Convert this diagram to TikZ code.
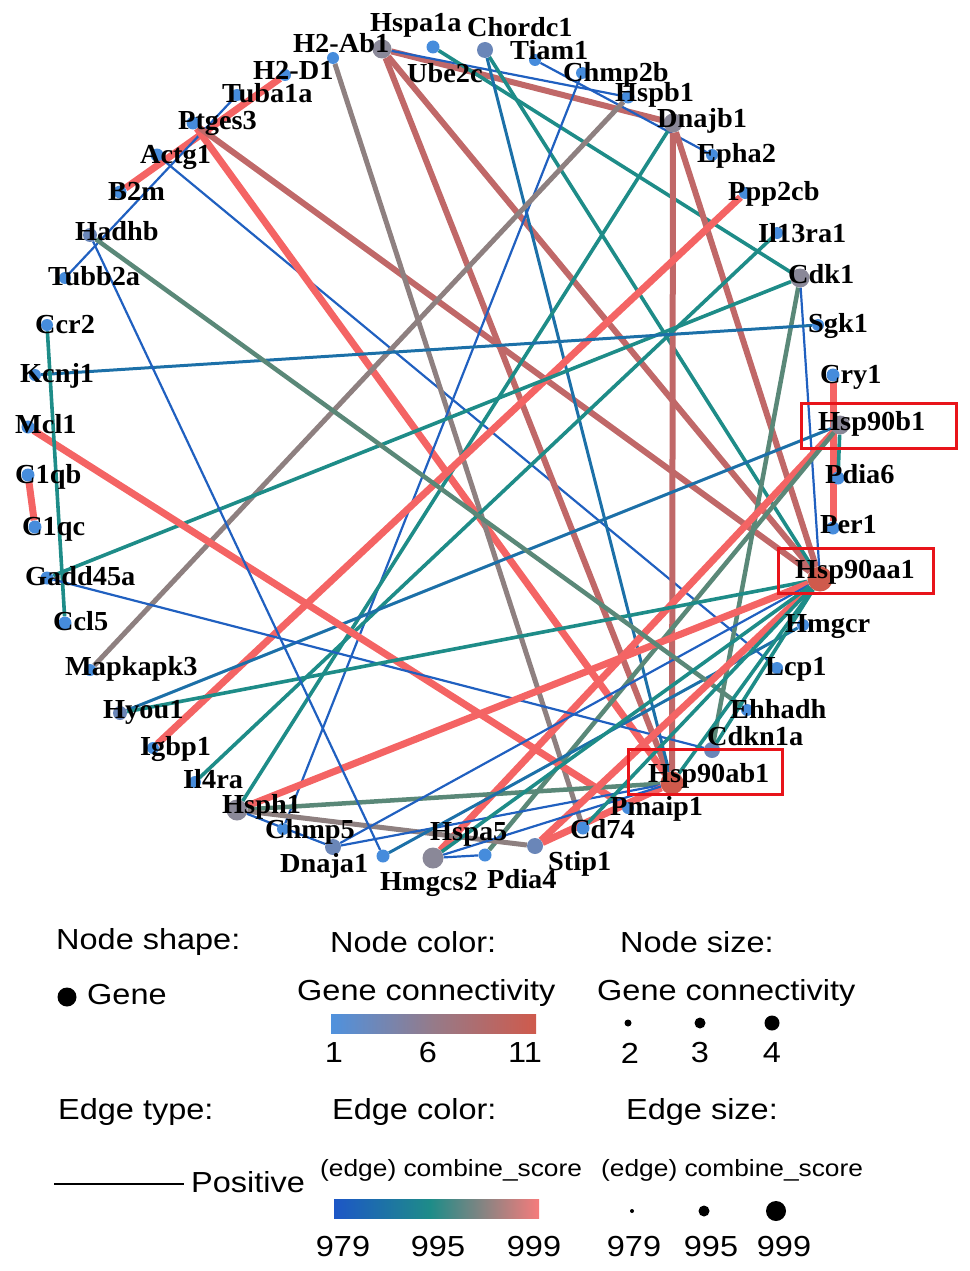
\documentclass[tikz,border=0pt]{standalone}
\usepackage{fontspec}
\setmainfont{Liberation Serif}
\newfontfamily\labfont[FakeStretch=1.03]{Liberation Serif}
\newfontfamily\legfont[FakeStretch=1.12]{Liberation Sans}
\pgfdeclarelayer{edgelayer}
\pgfsetlayers{edgelayer,main}
\definecolor{nBlue}{HTML}{468CDC}
\definecolor{nBG}{HTML}{6A86B8}
\definecolor{nGray}{HTML}{8A8898}
\definecolor{nRed}{HTML}{CF5A4C}
\definecolor{cBlue}{HTML}{2060C0}
\definecolor{cBT}{HTML}{1C70A8}
\definecolor{cTeal}{HTML}{1E8C88}
\definecolor{cGG}{HTML}{5A8878}
\definecolor{cGray}{HTML}{8E8080}
\definecolor{cBrown}{HTML}{C06868}
\definecolor{cRed}{HTML}{F46464}
\definecolor{boxRed}{HTML}{E8141A}
\tikzset{
  dot/.style={circle,inner sep=0pt,minimum size=13pt,fill=nBlue},
  dotS/.style={dot,minimum size=12pt},
  dotBG/.style={dot,fill=nBG,minimum size=16pt},
  dotGray/.style={dot,fill=nGray,minimum size=19pt},
  dotRed/.style={dot,fill=nRed,minimum size=25pt},
  lab/.style={anchor=base west,inner sep=0pt,font=\labfont\bfseries\fontsize{27.5}{30}\selectfont,text=black},
  leg/.style={inner sep=0pt,font=\legfont\fontsize{29}{32}\selectfont,text=black},
  legS/.style={inner sep=0pt,font=\legfont\fontsize{23.5}{26}\selectfont,text=black},
  eBlue/.style={draw=cBlue,line width=2.2pt},
  eBT/.style={draw=cBT,line width=3pt},
  eTeal/.style={draw=cTeal,line width=3.6pt},
  eGG/.style={draw=cGG,line width=4.5pt},
  eGray/.style={draw=cGray,line width=5pt},
  eBrown/.style={draw=cBrown,line width=6pt},
  eRed/.style={draw=cRed,line width=7pt},
  hibox/.style={draw=boxRed,line width=3pt}
}
\begin{document}
\begin{tikzpicture}[x=1pt,y=-1pt]
\useasboundingbox (0,0) rectangle (969,1271);
% ---------- gene nodes ----------
\node[dotS]    (H2Ab1)   at (333,58) {};
\node[dotGray] (Hspa1a)  at (382,49) {};
\node[dot]     (Ube2c)   at (433,47) {};
\node[dotBG]   (Chordc1) at (485,50) {};
\node[dotS]    (Tiam1)   at (535,60) {};
\node[dotS]    (Chmp2b)  at (582,73) {};
\node[dot]     (Hspb1)   at (628,97) {};
\node[dotGray] (Dnajb1)  at (673,123) {};
\node[dotS]    (Epha2)   at (712,155) {};
\node[dotS]    (Ppp2cb)  at (745,193) {};
\node[dotS]    (Il13ra1) at (777,233) {};
\node[dotGray] (Cdk1)    at (800,278) {};
\node[dotS]    (Sgk1)    at (818,325) {};
\node[dot]     (Cry1)    at (833,375) {};
\node[dotGray] (Hsp90b1) at (840,425) {};
\node[dot]     (Pdia6)   at (838,478) {};
\node[dot]     (Per1)    at (833,528) {};
\node[dotRed]  (Hsp90aa1) at (820,579) {};
\node[dotS]    (Hmgcr)   at (803,625) {};
\node[dotS]    (Lcp1)    at (777,668) {};
\node[dotS]    (Ehhadh)  at (747,710) {};
\node[dotBG]   (Cdkn1a)  at (712,750) {};
\node[dotRed,minimum size=23pt] (Hsp90ab1) at (672,783) {};
\node[dotS]    (Pmaip1)  at (628,808) {};
\node[dot]     (Cd74)    at (583,828) {};
\node[dotBG]   (Stip1)   at (535,846) {};
\node[dot]     (Pdia4)   at (485,855) {};
\node[dotGray,minimum size=21pt] (Hspa5) at (433,858) {};
\node[dot]     (Hmgcs2)  at (383,856) {};
\node[dotBG]   (Dnaja1)  at (333,847) {};
\node[dotS]    (Chmp5)   at (283,829) {};
\node[dotGray,minimum size=21pt] (Hsph1) at (237,810) {};
\node[dotS]    (Il4ra)   at (195,782) {};
\node[dotS]    (Igbp1)   at (153,748) {};
\node[dotBG,minimum size=14pt] (Hyou1) at (120,713) {};
\node[dotS]    (Mapkapk3) at (90,670) {};
\node[dot]     (Ccl5)    at (65,623) {};
\node[dot]     (Gadd45a) at (47,578) {};
\node[dot]     (C1qc)    at (35,527) {};
\node[dot]     (C1qb)    at (28,475) {};
\node[dot]     (Mcl1)    at (28,427) {};
\node[dotS]    (Kcnj1)   at (35,375) {};
\node[dotS]    (Ccr2)    at (47,325) {};
\node[dotS]    (Tubb2a)  at (65,278) {};
\node[dotBG,minimum size=14pt] (Hadhb) at (90,235) {};
\node[dot]     (B2m)     at (120,192) {};
\node[dot]     (Actg1)   at (157,155) {};
\node[dot]     (Ptges3)  at (193,123) {};
\node[dotS]    (Tuba1a)  at (237,95) {};
\node[dotS]    (H2D1)    at (285,75) {};
% ---------- interactions ----------
\begin{pgfonlayer}{edgelayer}
\draw[eRed]   (B2m) -- (H2D1);
\draw[eBlue]  (Tuba1a) -- (Tubb2a);
\draw[eBlue]  (Actg1) -- (Lcp1);
\draw[eRed]   (Ptges3) -- (Hsp90ab1);
\draw[eBrown] (Ptges3) -- (Hsp90aa1);
\draw[eBrown] (Hspa1a) -- (Hsp90ab1);
\draw[eBrown] (Hspa1a) -- (Hsp90aa1);
\draw[eBrown] (Hspa1a) -- (Dnajb1);
\draw[eBlue]  (Hspa1a) -- (Hspb1);
\draw[eGray]  (H2Ab1) -- (Cd74);
\draw[eTeal]  (Ube2c) -- (Cdk1);
\draw[eTeal]  (Chordc1) -- (Hsp90aa1);
\draw[eBT]    (Chordc1) -- (Hsp90ab1);
\draw[eBlue]  (Chmp2b) -- (Chmp5);
\draw[eBlue]  (Tiam1) -- (Epha2);
\draw[eBrown] (Dnajb1) -- (Hsp90ab1);
\draw[eBrown] (Dnajb1) -- (Hsp90aa1);
\draw[eTeal]  (Dnajb1) -- (Hsph1);
\draw[eGray]  (Hspb1) -- (Mapkapk3);
\draw[eRed]   (Ppp2cb) -- (Igbp1);
\draw[eTeal]  (Il13ra1) -- (Il4ra);
\draw[eTeal]  (Cdk1) -- (Gadd45a);
\draw[eGG]    (Cdk1) -- (Cdkn1a);
\draw[eBlue]  (Cdk1) -- (Hsp90aa1);
\draw[eBT]    (Sgk1) -- (Kcnj1);
\draw[eRed]   (Cry1) -- (Per1);
\draw[eTeal]  (Hsp90b1) -- (Pdia6);
\draw[eBT]    (Hsp90b1) -- (Hyou1);
\draw[eRed]   (Hsp90b1) -- (Hspa5);
\draw[eGG]    (Hsp90b1) -- (Pdia4);
\draw[eRed]   (Mcl1) -- (Pmaip1);
\draw[eRed]   (C1qb) -- (C1qc);
\draw[eTeal]  (Ccr2) -- (Ccl5);
\draw[eBlue]  (Gadd45a) -- (Cdkn1a);
\draw[eTeal]  (Hyou1) -- (Hsp90aa1);
\draw[eRed]   (Hsph1) -- (Hsp90aa1);
\draw[eGG]    (Hsph1) -- (Hsp90ab1);
\draw[eGray]  (Hsph1) -- (Stip1);
\draw[eBlue]  (Hsph1) -- (Dnaja1);
\draw[eBlue]  (Dnaja1) -- (Hsp90aa1);
\draw[eBlue]  (Dnaja1) -- (Hsp90ab1);
\draw[eBlue]  (Hmgcs2) -- (Hadhb);
\draw[eBT]    (Hmgcs2) -- (Hmgcr);
\draw[eGG]    (Hadhb) -- (Ehhadh);
\draw[eRed]   (Stip1) -- (Hsp90aa1);
\draw[eRed]   (Stip1) -- (Hsp90ab1);
\draw[eTeal]  (Hspa5) -- (Hsp90aa1);
\draw[eBlue]  (Hspa5) -- (Pdia4);
\draw[eBlue]  (Hspa5) -- (Hsp90ab1);
\draw[eTeal]  (Hsp90aa1) -- (Cdkn1a);
\draw[eTeal]  (Hsp90aa1) -- (Hsp90ab1);
\draw[eTeal]  (Cd74) -- (Hsp90aa1);
\end{pgfonlayer}
% ---------- gene labels ----------
\node[lab] (tH2Ab1)   at (293,53)  {H2-Ab1};
\node[lab] (tHspa1a)  at (370,32)  {Hspa1a};
\node[lab] (tChordc1) at (467,37)  {Chordc1};
\node[lab] (tTiam1)   at (510,60)  {Tiam1};
\node[lab] (tUbe2c)   at (407,83)  {Ube2c};
\node[lab] (tChmp2b)  at (563,82)  {Chmp2b};
\node[lab] (tHspb1)   at (615,102) {Hspb1};
\node[lab] (tDnajb1)  at (657,128) {Dnajb1};
\node[lab] (tEpha2)   at (697,162) {Epha2};
\node[lab] (tPpp2cb)  at (728,200) {Ppp2cb};
\node[lab] (tIl13ra1) at (758,242) {Il13ra1};
\node[lab] (tCdk1)    at (788,283) {Cdk1};
\node[lab] (tSgk1)    at (808,332) {Sgk1};
\node[lab] (tCry1)    at (820,383) {Cry1};
\node[lab] (tHsp90b1) at (818,430) {Hsp90b1};
\node[lab] (tPdia6)   at (825,483) {Pdia6};
\node[lab] (tPer1)    at (820,533) {Per1};
\node[lab] (tHsp90aa1) at (795,578) {Hsp90aa1};
\node[lab] (tHmgcr)   at (785,632) {Hmgcr};
\node[lab] (tLcp1)    at (765,675) {Lcp1};
\node[lab] (tEhhadh)  at (730,718) {Ehhadh};
\node[lab] (tCdkn1a)  at (707,745) {Cdkn1a};
\node[lab] (tHsp90ab1) at (648,782) {Hsp90ab1};
\node[lab] (tPmaip1)  at (610,815) {Pmaip1};
\node[lab] (tCd74)    at (570,838) {Cd74};
\node[lab] (tStip1)   at (548,870) {Stip1};
\node[lab] (tPdia4)   at (487,888) {Pdia4};
\node[lab] (tHspa5)   at (430,840) {Hspa5};
\node[lab] (tHmgcs2)  at (380,890) {Hmgcs2};
\node[lab] (tDnaja1)  at (280,872) {Dnaja1};
\node[lab] (tChmp5)   at (265,838) {Chmp5};
\node[lab] (tHsph1)   at (222,813) {Hsph1};
\node[lab] (tIl4ra)   at (183,788) {Il4ra};
\node[lab] (tIgbp1)   at (140,755) {Igbp1};
\node[lab] (tHyou1)   at (103,718) {Hyou1};
\node[lab] (tMapkapk3) at (65,675) {Mapkapk3};
\node[lab] (tCcl5)    at (53,630)  {Ccl5};
\node[lab] (tGadd45a) at (25,585)  {Gadd45a};
\node[lab] (tC1qc)    at (22,535)  {C1qc};
\node[lab] (tC1qb)    at (15,483)  {C1qb};
\node[lab] (tMcl1)    at (15,433)  {Mcl1};
\node[lab] (tKcnj1)   at (20,382)  {Kcnj1};
\node[lab] (tCcr2)    at (35,333)  {Ccr2};
\node[lab] (tTubb2a)  at (48,285)  {Tubb2a};
\node[lab] (tHadhb)   at (75,240)  {Hadhb};
\node[lab] (tB2m)     at (108,200) {B2m};
\node[lab] (tActg1)   at (140,163) {Actg1};
\node[lab] (tPtges3)  at (178,130) {Ptges3};
\node[lab] (tTuba1a)  at (222,103) {Tuba1a};
\node[lab] (tH2D1)    at (253,80)  {H2-D1};
% ---------- highlight boxes ----------
\node[hibox,inner sep=0pt,minimum width=155pt,minimum height=45pt,anchor=north west] (bHsp90b1) at (800,402) {};
\node[hibox,inner sep=0pt,minimum width=155pt,minimum height=45pt,anchor=north west] (bHsp90aa1) at (777,547) {};
\node[hibox,inner sep=0pt,minimum width=154pt,minimum height=45pt,anchor=north west] (bHsp90ab1) at (627,748) {};
% ---------- legend ----------
\node[leg,anchor=west] (lNS) at (56,942) {Node shape:};
\node[leg,anchor=west] (lNC) at (330,942) {Node color:};
\node[leg,anchor=west] (lNZ) at (620,942) {Node size:};
\node[circle,fill=black,inner sep=0pt,minimum width=17pt,minimum height=19pt] (lGeneDot) at (67,997) {};
\node[leg,anchor=west] (lGene) at (87,995) {Gene};
\node[leg,anchor=west] (lGC1) at (297,993) {Gene connectivity};
\shade[left color=nBlue!95!white,right color=nRed,middle color=nGray!90!red] (331,1014) rectangle (536,1033);
\node[leg] (lN1) at (334,1053) {1};
\node[leg] (lN6) at (428,1053) {6};
\node[leg] (lN11) at (525,1053) {11};
\node[leg,anchor=west] (lGC2) at (597,993) {Gene connectivity};
\node[circle,fill=black,inner sep=0pt,minimum size=7pt] (lS2) at (628,1023) {};
\node[circle,fill=black,inner sep=0pt,minimum size=11pt] (lS3) at (700,1023) {};
\node[circle,fill=black,inner sep=0pt,minimum size=15pt] (lS4) at (772,1023) {};
\node[leg] (lL2) at (630,1053) {2};
\node[leg] (lL3) at (700,1053) {3};
\node[leg] (lL4) at (772,1053) {4};
\node[leg,anchor=west] (lET) at (58,1112) {Edge type:};
\node[leg,anchor=west] (lEC) at (332,1112) {Edge color:};
\node[leg,anchor=west] (lEZ) at (626,1112) {Edge size:};
\coordinate (lineA) at (54,1184);
\coordinate (lineB) at (184,1184);
\draw[line width=1.8pt,black] (lineA) -- (lineB);
\node[leg,anchor=west] (lPos) at (191,1182) {Positive};
\node[legS,anchor=west] (lCS1) at (320,1170) {(edge) combine\_score};
\node[legS,anchor=west] (lCS2) at (601,1170) {(edge) combine\_score};
\shade[left color=cBlue!90!blue,right color=cTeal] (334,1199) rectangle (431,1218);
\shade[left color=cTeal,middle color=cGray,right color=cRed!85!white] (430.5,1199) rectangle (539,1218);
\node[leg] (lE1) at (343,1247) {979};
\node[leg] (lE2) at (438,1247) {995};
\node[leg] (lE3) at (534,1247) {999};
\node[circle,fill=black,inner sep=0pt,minimum size=4pt] (lZ1) at (632,1211) {};
\node[circle,fill=black,inner sep=0pt,minimum size=11pt] (lZ2) at (704,1211) {};
\node[circle,fill=black,inner sep=0pt,minimum size=20pt] (lZ3) at (776,1211) {};
\node[leg] (lF1) at (634,1247) {979};
\node[leg] (lF2) at (711,1247) {995};
\node[leg] (lF3) at (784,1247) {999};
\end{tikzpicture}
\end{document}
